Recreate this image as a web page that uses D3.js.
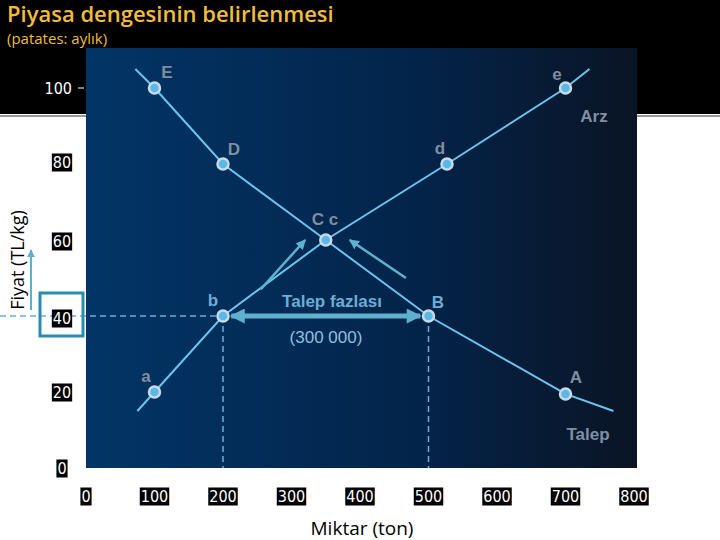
<!DOCTYPE html>
<html><head><meta charset="utf-8">
<script src="https://cdn.jsdelivr.net/npm/d3@7"></script>
<style>body{margin:0;background:#fff}svg{display:block}</style>
</head><body><div id="chart"></div>
<script>
const xTicks = [0, 100, 200, 300, 400, 500, 600, 700, 800];
const yTicks = [0, 20, 40, 60, 80, 100];
// demand (Talep) and supply (Arz) points: [quantity, price, label]
const demandPts = [[100, 100, 'E'], [200, 80, 'D'], [350, 60, 'C'], [500, 40, 'B'], [700, 19.5, 'A']];
const supplyPts = [[100, 20, 'a'], [200, 40, 'b'], [350, 60, 'c'], [527, 80, 'd'], [700, 100, 'e']];
const demandEnds = [[72, 105], [770, 15]];
const supplyEnds = [[75, 15], [735, 105]];

const W = 720, H = 540;
const svg = d3.select('#chart').append('svg').attr('width', W).attr('height', H);
const x = d3.scaleLinear().domain([0, 800]).range([86, 634]);
const y = d3.scaleLinear().domain([0, 100]).range([468, 88]);

const defs = svg.append('defs');
const grad = defs.append('linearGradient').attr('id', 'bg');
grad.append('stop').attr('offset', '0%').attr('stop-color', '#023566');
grad.append('stop').attr('offset', '60%').attr('stop-color', '#03244a');
grad.append('stop').attr('offset', '100%').attr('stop-color', '#0a1425');
defs.append('marker').attr('id', 'ah').attr('viewBox', '0 0 10 10').attr('refX', 9).attr('refY', 5)
    .attr('markerWidth', 4).attr('markerHeight', 4).attr('orient', 'auto-start-reverse')
    .append('path').attr('d', 'M0,0L10,5L0,10z').attr('fill', '#5fb0cf');
defs.append('marker').attr('id', 'ah2').attr('viewBox', '0 0 10 10').attr('refX', 9).attr('refY', 5)
    .attr('markerWidth', 3.2).attr('markerHeight', 3).attr('orient', 'auto-start-reverse')
    .append('path').attr('d', 'M0,0L10,5L0,10z').attr('fill', '#5fb0cf');

// header band
svg.append('rect').attr('width', W).attr('height', 114).attr('fill', '#000');
svg.append('line').attr('x1', 0).attr('x2', W).attr('y1', 116).attr('y2', 116).attr('stroke', '#777').attr('stroke-width', 1.5);
svg.append('text').attr('x', 7).attr('y', 22).attr('fill', '#f2bd3a')
    .style('font-family', '"Open Sans", sans-serif').style('font-size', '22px').style('font-weight', 600)
    .text('Piyasa dengesinin belirlenmesi');
svg.append('text').attr('x', 7).attr('y', 44).attr('fill', '#f2bd3a')
    .style('font-family', '"Open Sans", sans-serif').style('font-size', '15px')
    .text('(patates: aylık)');

// plot background
svg.append('rect').attr('x', 86).attr('y', 48).attr('width', 551).attr('height', 420).attr('fill', 'url(#bg)');

const line = d3.line().x(d => x(d[0])).y(d => y(d[1]));
const lblFont = 'bold 17px "Liberation Sans", Arial, sans-serif';

// dashed guides
const dash = svg.append('g').attr('stroke', '#6aaed6').attr('stroke-width', 1.5).attr('stroke-dasharray', '6,4');
dash.append('line').attr('x1', 0).attr('x2', x(200)).attr('y1', y(40)).attr('y2', y(40));
dash.append('line').attr('x1', x(200)).attr('x2', x(200)).attr('y1', y(40)).attr('y2', y(0));
dash.append('line').attr('x1', x(500)).attr('x2', x(500)).attr('y1', y(40)).attr('y2', y(0));

// curves
const curve = (pts, ends) => [ends[0]].concat(pts.map(p => [p[0], p[1]]), [ends[1]]);
[curve(demandPts, demandEnds), curve(supplyPts, supplyEnds)].forEach(d => {
    svg.append('path').datum(d).attr('d', line).attr('fill', 'none').attr('stroke', '#6cc4ee').attr('stroke-width', 2);
});

// arrows towards equilibrium
svg.append('line').attr('x1', x(255)).attr('y1', y(47)).attr('x2', x(320)).attr('y2', y(60))
    .attr('stroke', '#5fb0cf').attr('stroke-width', 2.5).attr('marker-end', 'url(#ah)');
svg.append('line').attr('x1', x(467)).attr('y1', y(50)).attr('x2', x(385)).attr('y2', y(60))
    .attr('stroke', '#5fb0cf').attr('stroke-width', 2.5).attr('marker-end', 'url(#ah)');
svg.append('line').attr('x1', x(212)).attr('y1', y(40)).attr('x2', x(488)).attr('y2', y(40))
    .attr('stroke', '#5fb0cf').attr('stroke-width', 5)
    .attr('marker-start', 'url(#ah2)').attr('marker-end', 'url(#ah2)');

// points
demandPts.concat(supplyPts).filter(p => p[2] !== 'c').forEach(p => {
    svg.append('circle').attr('cx', x(p[0])).attr('cy', y(p[1])).attr('r', 5.5)
        .attr('fill', '#5ab8e6').attr('stroke', '#c9dbea').attr('stroke-width', 2.5);
});

// point labels
const labels = [['E', 167, 78], ['e', 557, 80], ['D', 234, 155], ['d', 440, 154], ['C c', 325, 225],
    ['b', 213, 306], ['B', 438, 308], ['a', 146, 382], ['A', 576, 383]];
labels.forEach(l => {
    svg.append('text').attr('x', l[1]).attr('y', l[2]).attr('text-anchor', 'middle')
        .attr('fill', l[0] === 'b' || l[0] === 'B' ? '#6aaed6' : '#7f8fa0')
        .style('font', lblFont).text(l[0]);
});
svg.append('text').attr('x', 594).attr('y', 122).attr('text-anchor', 'middle').attr('fill', '#7f8fa0').style('font', lblFont).text('Arz');
svg.append('text').attr('x', 588).attr('y', 440).attr('text-anchor', 'middle').attr('fill', '#7f8fa0').style('font', lblFont).text('Talep');
svg.append('text').attr('x', 332).attr('y', 307).attr('text-anchor', 'middle').attr('fill', '#6aaed6').style('font', lblFont).text('Talep fazlası');
svg.append('text').attr('x', 326).attr('y', 343).attr('text-anchor', 'middle').attr('fill', '#8cc0e0')
    .style('font', '17px "Liberation Sans", Arial, sans-serif').text('(300 000)');

// tick labels (white on black)
const tickFont = '16px "Liberation Sans Narrow", "DejaVu Sans Condensed", sans-serif';
function tickLabel(tx, ty, s) {
    const t = svg.append('text').attr('x', tx).attr('y', ty).attr('text-anchor', 'middle')
        .attr('dominant-baseline', 'central').attr('fill', '#fff').style('font', tickFont).text(s);
    const b = t.node().getBBox();
    svg.insert('rect', () => t.node()).attr('x', b.x - 1).attr('y', b.y + 1).attr('width', b.width + 2).attr('height', b.height - 1).attr('fill', '#000');
}
const yShift = { 0: 0, 20: 0, 40: 2, 60: 1, 80: -2 };
xTicks.forEach(v => tickLabel(x(v), 496, v));
yTicks.forEach(v => {
    if (v === 100) {
        svg.append('text').attr('x', 72).attr('y', y(v)).attr('text-anchor', 'end').attr('dominant-baseline', 'central')
            .attr('fill', '#fff').style('font', tickFont).text(v);
        svg.append('line').attr('x1', 78).attr('x2', 84).attr('y1', y(v)).attr('y2', y(v)).attr('stroke', '#fff');
    } else tickLabel(62, y(v) + yShift[v], v);
});
svg.append('rect').attr('x', 40).attr('y', 293).attr('width', 43).attr('height', 43)
    .attr('fill', 'none').attr('stroke', '#2a8cb0').attr('stroke-width', 3);

// axis titles
svg.append('text').attr('x', 362).attr('y', 535).attr('text-anchor', 'middle').attr('fill', '#000')
    .style('font', '19px "Open Sans", sans-serif').text('Miktar (ton)');
svg.append('text').attr('transform', 'translate(24,260) rotate(-90)').attr('text-anchor', 'middle')
    .attr('fill', '#000').style('font', '18px "Open Sans", sans-serif').text('Fiyat (TL/kg)');
svg.append('line').attr('x1', 31).attr('x2', 31).attr('y1', 310).attr('y2', 250)
    .attr('stroke', '#5fb0cf').attr('stroke-width', 2).attr('marker-end', 'url(#ah)');
</script></body></html>
